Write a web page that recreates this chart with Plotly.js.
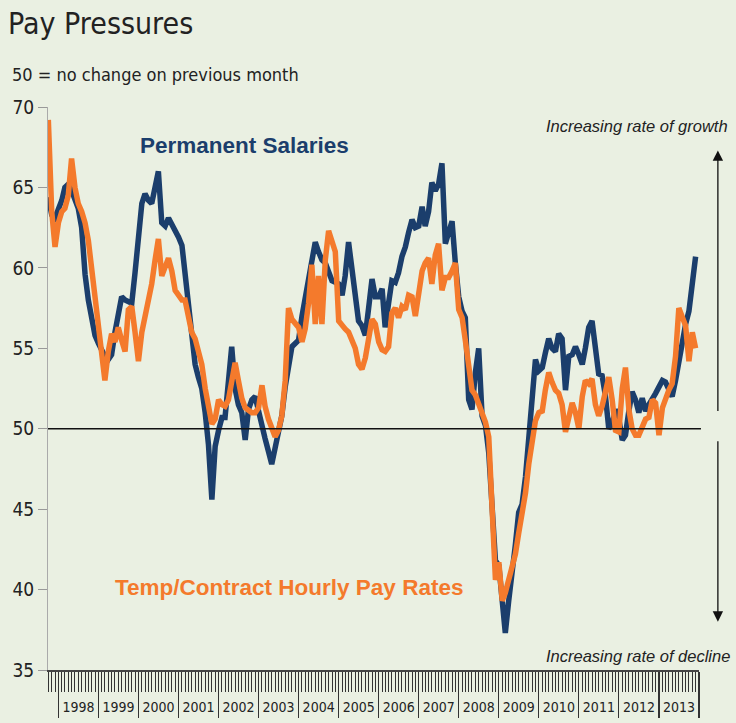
<!DOCTYPE html>
<html>
<head>
<meta charset="utf-8">
<script src="https://cdn.plot.ly/plotly-3.0.1.min.js"></script>
<style>
  html, body { margin: 0; padding: 0; background: #eaf0e2; }
  #chart { width: 736px; height: 723px; }
</style>
</head>
<body>
<div id="chart"></div>
<script>
// ---- data (monthly index readings, Oct 1997 - Dec 2013) ----
const startYear = 1997;
const startMonth = 10; // October
const permanentSalaries = [
  64.4, 63.3, 63.1, 63.6, 64.2, 65.0, 65.2, 64.8, 64.3, 63.7, 62.5, 59.6, 58.0, 56.8, 55.8,
  55.3, 54.8, 54.5, 54.3, 54.6, 56.0, 57.2, 58.2, 58.0, 57.9, 57.8, 59.7,
  62.0, 64.0, 64.6, 64.2, 64.0, 65.0, 66.0, 62.8, 62.6, 63.1, 62.7, 62.4,
  61.9, 61.4, 59.8, 57.5, 56.0, 54.0, 53.2, 52.5, 51.0, 49.0, 45.6, 48.9,
  49.9, 50.7, 50.7, 53.0, 55.1, 52.5, 51.5, 51.0, 49.3, 51.2, 51.8, 52.0,
  51.0, 50.2, 49.4, 48.6, 47.8, 48.8, 49.9, 50.8, 52.6, 54.0, 55.1, 55.3,
  55.5, 57.0, 58.0, 59.1, 60.5, 61.6, 61.0, 60.5, 60.3, 59.8, 59.2, 59.1,
  59.0, 58.3, 59.5, 61.6, 59.8, 58.0, 56.7, 56.4, 55.8, 57.5, 59.3, 58.2,
  58.2, 58.7, 56.3, 57.8, 59.2, 59.1, 59.7, 60.7, 61.3, 62.2, 63.0, 62.5,
  62.6, 63.8, 62.6, 63.5, 65.3, 64.8, 65.2, 66.5, 61.5, 62.2, 62.9, 60.3,
  58.2, 57.3, 56.9, 51.8, 51.2, 53.5, 55.0, 50.8, 50.2, 48.5, 44.3, 41.8,
  41.5, 39.0, 37.3, 39.3, 40.8, 42.8, 44.8, 45.3, 47.0, 49.5, 52.5, 54.3,
  53.6, 53.8, 54.7, 55.6, 55.0, 54.8, 55.9, 55.6, 52.4, 54.5, 54.6, 55.1,
  54.6, 54.0, 55.0, 56.3, 56.7, 54.8, 53.4, 53.3, 52.0, 50.0, 50.3, 51.2,
  50.6, 49.3, 49.6, 51.1, 52.3, 51.8, 51.0, 51.9, 51.1, 51.5, 51.8, 52.2,
  52.6, 53.0, 52.9, 52.5, 52.0, 53.0, 54.3, 55.6, 56.5, 57.3, 59.0, 60.7
];
const tempContractPay = [
  69.2, 63.5, 61.3, 62.8, 63.5, 63.7, 64.5, 66.8, 65.0, 64.0, 63.5, 62.8, 61.7, 60.0, 58.2,
  56.8, 54.5, 53.0, 54.8, 55.9, 55.4, 56.3, 55.5, 54.8, 57.4, 57.6, 56.0,
  54.2, 56.0, 56.9, 58.0, 59.0, 60.5, 61.8, 59.5, 60.0, 60.6, 59.8, 58.6,
  58.3, 58.0, 58.0, 57.0, 56.0, 55.6, 54.8, 54.0, 52.5, 51.2, 50.3, 50.6,
  51.8, 51.5, 51.4, 51.8, 52.8, 54.1, 53.0, 51.9, 51.3, 51.1, 51.0, 51.0,
  51.3, 52.7, 51.4, 50.6, 50.1, 49.5, 49.9, 50.8, 53.0, 57.5, 56.8, 56.6,
  56.3, 55.4, 56.2, 57.8, 60.2, 56.5, 59.5, 56.5, 60.5, 62.3, 61.6, 61.0,
  56.7, 56.4, 56.2, 56.0, 55.6, 55.0, 54.0, 53.7, 54.4, 55.6, 56.8, 56.5,
  55.4, 54.9, 54.8, 55.1, 57.2, 57.5, 56.9, 57.6, 57.4, 58.3, 58.2, 57.0,
  58.2, 59.8, 60.3, 60.6, 59.0, 60.8, 61.5, 58.6, 59.4, 59.4, 59.8, 60.3,
  57.4, 56.9, 55.5, 53.8, 52.4, 52.1, 51.6, 51.0, 50.4, 49.5, 45.5, 40.6,
  41.7, 39.3, 39.8, 40.6, 41.6, 42.2, 43.5, 44.6, 46.0, 47.8, 49.2, 50.5,
  51.0, 51.1, 52.4, 53.5, 52.9, 52.4, 52.2, 51.5, 49.8, 50.6, 51.6, 51.0,
  50.0, 52.0, 53.0, 52.8, 53.1, 51.5, 50.8, 51.4, 52.5, 53.2, 51.8, 49.9,
  49.8, 52.5, 53.8, 51.2, 50.0, 49.6, 49.6, 50.2, 50.6, 50.7, 51.8, 51.6,
  49.6, 51.3, 51.9, 52.4, 52.8, 54.5, 57.5, 57.0, 56.4, 54.2, 56.0, 55.0
];
const seriesNames = ["Permanent Salaries", "Temp/Contract Hourly Pay Rates"];
const yTicks = [35, 40, 45, 50, 55, 60, 65, 70];

// month dates built from the start month
const months = permanentSalaries.map((_, i) => {
  const t = (startMonth - 1) + i;
  const y = startYear + Math.floor(t / 12);
  const m = (t % 12) + 1;
  return y + "-" + String(m).padStart(2, "0") + "-01";
});

const FONT = "'Liberation Sans Narrow', 'DejaVu Sans Condensed', 'Arial Narrow', sans-serif";
const BOLD = "'Liberation Sans', Arial, sans-serif";
const BG = "#eaf0e2";
const NAVY = "#1b3e6c";
const ORANGE = "#f47a2c";

const traces = [
  { x: months, y: permanentSalaries, name: seriesNames[0], type: "scatter", mode: "lines",
    line: { color: NAVY, width: 5.5, shape: "linear" }, hoverinfo: "skip" },
  { x: months, y: tempContractPay, name: seriesNames[1], type: "scatter", mode: "lines",
    line: { color: ORANGE, width: 5.5, shape: "linear" }, hoverinfo: "skip" }
];

const layout = {
  width: 736, height: 723,
  paper_bgcolor: BG, plot_bgcolor: BG,
  showlegend: false,
  hovermode: false,
  margin: { l: 48, r: 37, t: 107, b: 53 },
  font: { family: FONT, color: "#222" },
  title: { text: "Pay Pressures", x: 0.011, xanchor: "left", y: 0.967, yanchor: "middle",
           font: { family: FONT, size: 30, color: "#222" } },
  xaxis: {
    type: "date",
    range: ["1997-09-28", "2014-01-01"],
    showgrid: false, zeroline: false,
    showline: true, linecolor: "#444", linewidth: 1.5,
    ticks: "outside", ticklen: 46, tickcolor: "#333", tickwidth: 1.2,
    dtick: "M12", tick0: "1998-01-01", tickformat: "%Y",
    ticklabelmode: "period", ticklabelstandoff: -22,
    tickfont: { family: FONT, size: 14, color: "#222" },
    minor: { dtick: "M1", ticks: "outside", ticklen: 20, tickcolor: "#333", tickwidth: 1, showgrid: false }
  },
  yaxis: {
    range: [35, 70],
    tickvals: yTicks,
    showgrid: false, zeroline: false,
    showline: true, linecolor: "#aaa", linewidth: 1,
    ticks: "outside", ticklen: 9, tickcolor: "#999", tickwidth: 1,
    tickfont: { family: FONT, size: 19, color: "#222" }
  },
  shapes: [
    { type: "line", xref: "paper", x0: 0, x1: 1.003, yref: "y", y0: 50, y1: 50,
      line: { color: "#111", width: 1.5 } }
  ],
  annotations: [
    { text: "50 = no change on previous month", xref: "paper", yref: "paper",
      x: -0.058, y: 1.058, xanchor: "left", yanchor: "middle", showarrow: false,
      font: { family: FONT, size: 18, color: "#222" } },
    { text: "<b>Permanent Salaries</b>", xref: "paper", yref: "y",
      x: 0.139, y: 67.6, xanchor: "left", yanchor: "middle", showarrow: false,
      font: { family: BOLD, size: 22.5, color: NAVY } },
    { text: "<b>Temp/Contract Hourly Pay Rates</b>", xref: "paper", yref: "y",
      x: 0.100, y: 40.1, xanchor: "left", yanchor: "middle", showarrow: false,
      font: { family: BOLD, size: 22.5, color: ORANGE } },
    { text: "<i>Increasing rate of growth</i>", xref: "paper", yref: "y",
      x: 1.048, y: 68.8, xanchor: "right", yanchor: "middle", showarrow: false,
      font: { family: BOLD, size: 16.5, color: "#222" } },
    { text: "<i>Increasing rate of decline</i>", xref: "paper", yref: "y",
      x: 1.050, y: 35.9, xanchor: "right", yanchor: "middle", showarrow: false,
      font: { family: BOLD, size: 16.5, color: "#222" } },
    { text: "", xref: "paper", yref: "y", x: 1.029, y: 67.3,
      showarrow: true, ax: 0, ay: 262, arrowhead: 2, arrowsize: 1.6, arrowwidth: 1.3, arrowcolor: "#111" },
    { text: "", xref: "paper", yref: "y", x: 1.029, y: 38.0,
      showarrow: true, ax: 0, ay: -182, arrowhead: 2, arrowsize: 1.6, arrowwidth: 1.3, arrowcolor: "#111" }
  ]
};

Plotly.newPlot("chart", traces, layout, { displayModeBar: false, staticPlot: true });
</script>
</body>
</html>
